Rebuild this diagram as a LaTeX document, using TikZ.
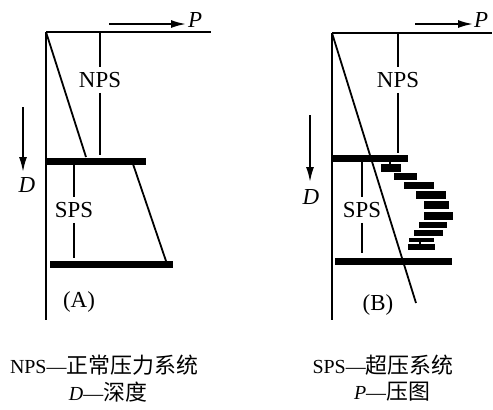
\documentclass[tikz,border=0pt]{standalone}
\usepackage{fontspec}
\setmainfont{Liberation Serif}
\newfontfamily\cjk{Noto Sans CJK SC}
\usetikzlibrary{arrows.meta}
\tikzset{
  thinln/.style={line width=1.8bp},
  thickbar/.style={line width=7bp},
  arr/.style={line width=1.8bp,-{Latex[length=15bp,width=8bp]}},
  lbl/.style={inner sep=0pt,font=\fontsize{23}{25}\selectfont},
  ilbl/.style={inner sep=0pt,font=\fontsize{23}{25}\selectfont\itshape},
  captext/.style={inner sep=0pt,font=\fontsize{20}{24}\selectfont},
  blk/.style={fill=black,draw=none}
}
\begin{document}
\begin{tikzpicture}[x=1bp,y=-1bp]
\useasboundingbox (0,0) rectangle (493,409);
% ---------- Panel A ----------
\coordinate (a0) at (46,32);
\coordinate (aBot) at (46,320);
\coordinate (aTopR) at (211,32);
\draw[thinln] (a0) -- (aBot);
\draw[thinln] (a0) -- (aTopR);
\coordinate (aP1) at (109,24);
\coordinate (aP2) at (186,24);
\draw[arr] (aP1) -- (aP2);
\node[ilbl] (aP) at (195,20) {P};
\node[lbl] (aNPS) at (100,80) {NPS};
\coordinate (aN1) at (100,32);
\coordinate (aN2) at (100,155);
\draw[thinln] (aN1) -- ([yshift=5bp]aNPS.north);
\draw[thinln] ([yshift=-5bp]aNPS.south) -- (aN2);
\coordinate (aD1) at (86,157);
\draw[thinln] (a0) -- (aD1);
\coordinate (aB1l) at (46,161);
\coordinate (aB1r) at (146,161);
\draw[thickbar] (aB1l) -- (aB1r);
\coordinate (aE1) at (133,164);
\coordinate (aE2) at (166,261);
\draw[thinln] (aE1) -- (aE2);
\coordinate (aB2l) at (50,264);
\coordinate (aB2r) at (173,264);
\draw[thickbar] (aB2l) -- (aB2r);
\node[lbl] (aSPS) at (74,210) {SPS};
\coordinate (aS1) at (74,164);
\coordinate (aS2) at (74,258);
\draw[thinln] (aS1) -- ([yshift=5bp]aSPS.north);
\draw[thinln] ([yshift=-5bp]aSPS.south) -- (aS2);
\coordinate (aDa) at (23,107);
\coordinate (aDb) at (23,172);
\draw[arr] (aDa) -- (aDb);
\node[ilbl] (aD) at (27,185) {D};
\node[lbl] (aLab) at (79,302) {(A)};
% ---------- Panel B ----------
\coordinate (b0) at (332,33);
\coordinate (bBot) at (332,320);
\coordinate (bTopR) at (492,33);
\draw[thinln] (b0) -- (bBot);
\draw[thinln] (b0) -- (bTopR);
\coordinate (bP1) at (415,24);
\coordinate (bP2) at (473,24);
\draw[arr] (bP1) -- (bP2);
\node[ilbl] (bP) at (481,20) {P};
\node[lbl] (bNPS) at (398,80) {NPS};
\coordinate (bN1) at (398,33);
\coordinate (bN2) at (398,153);
\draw[thinln] (bN1) -- ([yshift=5bp]bNPS.north);
\draw[thinln] ([yshift=-5bp]bNPS.south) -- (bN2);
\coordinate (bDg) at (416,303);
\draw[thinln] (b0) -- (bDg);
\coordinate (bB1l) at (332,158);
\coordinate (bB1r) at (408,158);
\draw[thickbar] (bB1l) -- (bB1r);
\coordinate (bB2l) at (335,261);
\coordinate (bB2r) at (452,261);
\draw[thickbar] (bB2l) -- (bB2r);
\node[lbl] (bSPS) at (362,210) {SPS};
\coordinate (bS1) at (362,162);
\coordinate (bS2) at (362,253);
\draw[thinln] (bS1) -- ([yshift=5bp]bSPS.north);
\draw[thinln] ([yshift=-5bp]bSPS.south) -- (bS2);
\coordinate (bDa) at (310,115);
\coordinate (bDb) at (310,182);
\draw[arr] (bDa) -- (bDb);
\node[ilbl] (bD) at (311,197) {D};
\node[lbl] (bLab) at (378,305) {(B)};
% overpressure bars
\fill[blk] (381,164) rectangle (401,172);
\fill[blk] (394,173) rectangle (417,180);
\fill[blk] (404,182) rectangle (434,189);
\fill[blk] (416,191) rectangle (446,199);
\fill[blk] (424,201) rectangle (449,209);
\fill[blk] (424,212) rectangle (453,220);
\fill[blk] (419,222) rectangle (447,228);
\fill[blk] (414,230) rectangle (443,236);
\fill[blk] (409,238) rectangle (434,242);
\fill[blk] (408,244) rectangle (435,250);
\draw[line width=1.4bp] (390,161) -- (390,165);
\draw[line width=1.4bp] (420,242) -- (420,244);
% ---------- captions ----------
\node[captext] (c1) at (104,365) {NPS—{\cjk\fontsize{22}{24}\selectfont 正常压力系统}};
\node[captext] (c2) at (108,392) {\textit{D}—{\cjk\fontsize{22}{24}\selectfont 深度}};
\node[captext] (c3) at (383,365) {SPS—{\cjk\fontsize{22}{24}\selectfont 超压系统}};
\node[captext] (c4) at (392,392) {\textit{P}—{\cjk\fontsize{22}{24}\selectfont 压图}};
\end{tikzpicture}
\end{document}
